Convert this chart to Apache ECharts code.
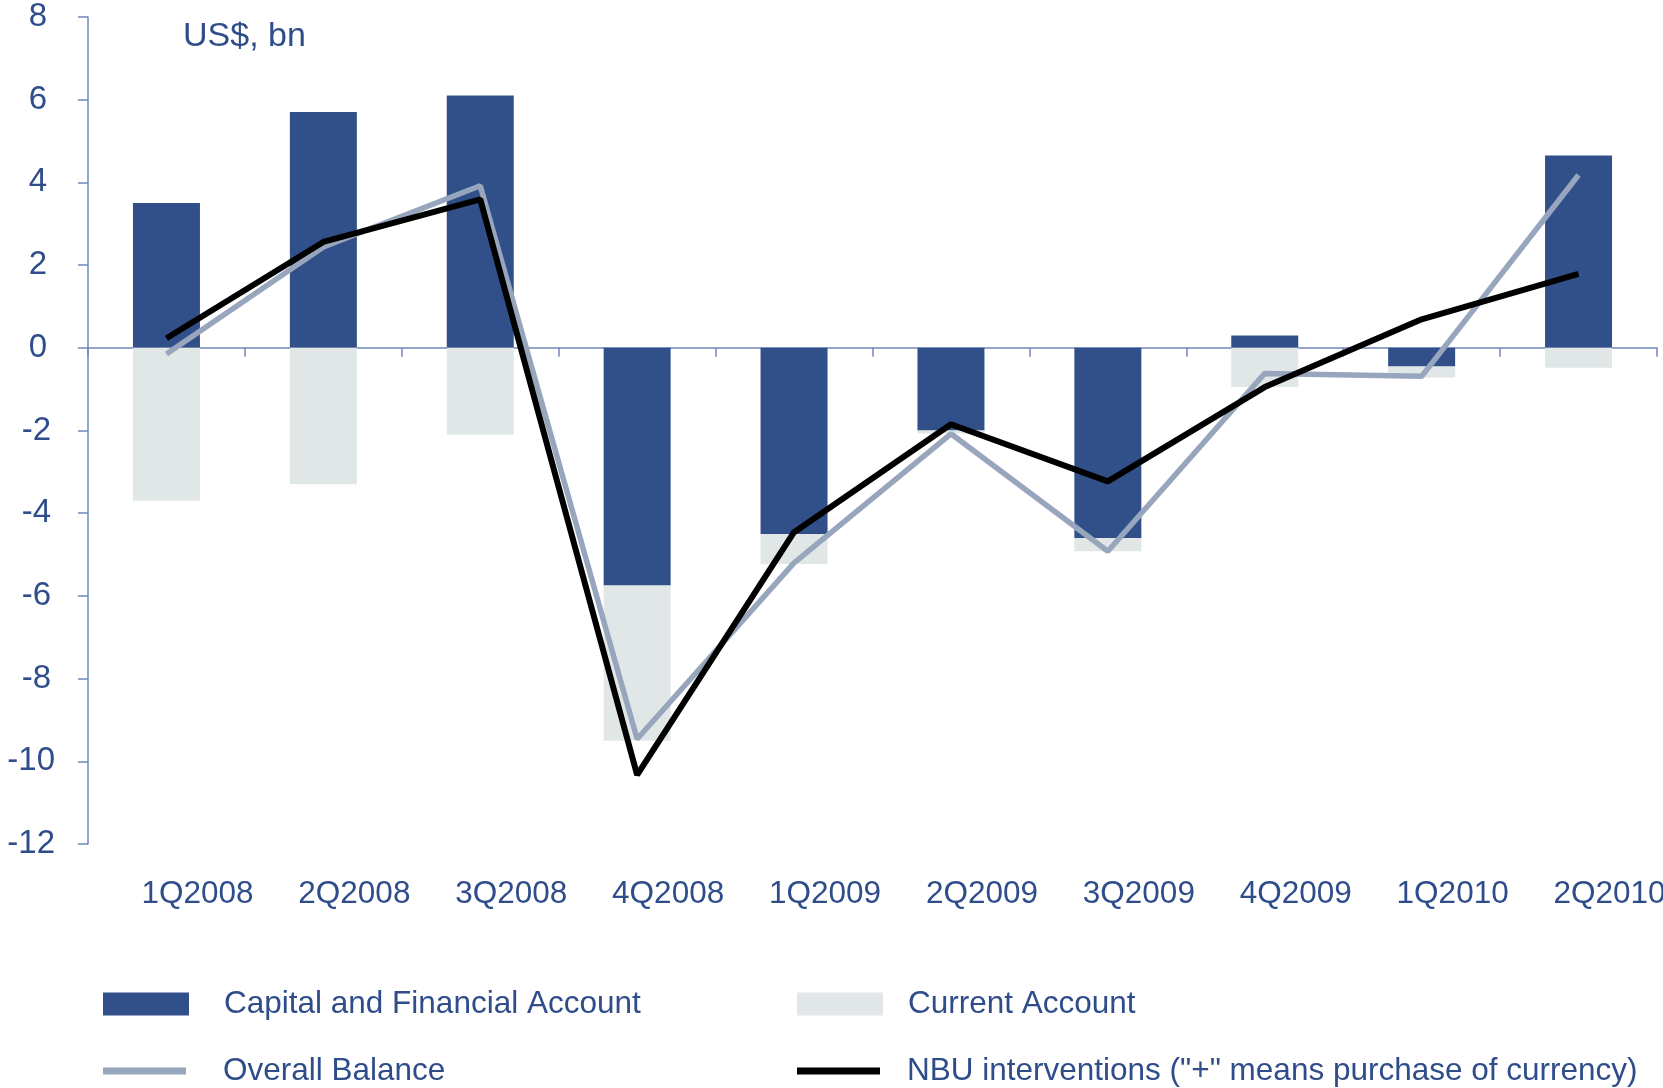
<!DOCTYPE html>
<html>
<head>
<meta charset="utf-8">
<title>Balance of payments</title>
<script src="https://cdn.jsdelivr.net/npm/echarts@6/dist/echarts.min.js"></script>
<style>
  html, body { margin: 0; padding: 0; background: #fff; }
  #chart { width: 1663px; height: 1088px; }
</style>
</head>
<body>
<div id="chart"></div>
<script>
// quarters on the x axis
var quarters = ['1Q2008', '2Q2008', '3Q2008', '4Q2008', '1Q2009', '2Q2009', '3Q2009', '4Q2009', '1Q2010', '2Q2010'];
// US$ bn
var capitalFinancial = [3.5, 5.7, 6.1, -5.75, -4.5, -2.0, -4.6, 0.3, -0.45, 4.65];
var currentAccount = [-3.7, -3.3, -2.1, -3.75, -0.73, -0.07, -0.32, -0.95, -0.27, -0.48];
var overallBalance = [-0.15, 2.44, 3.92, -9.46, -5.2, -2.08, -4.92, -0.62, -0.69, 4.18];
var nbuInterventions = [0.23, 2.56, 3.59, -10.33, -4.46, -1.85, -3.23, -0.95, 0.69, 1.79];

var font = "'Liberation Sans', Arial, sans-serif";
var textBlue = '#2f4d8a';
var axisBlue = '#7088bb';

var chart = echarts.init(document.getElementById('chart'));

function legendAt(name, left, top, w, h, gap) {
    return {
        data: [{ name: name, icon: 'rect' }],
        left: left,
        top: top,
        padding: 0,
        itemWidth: w,
        itemHeight: h,
        selectedMode: false,
        formatter: function (n) { return '{t|' + n + '}'; },
        textStyle: {
            rich: {
                t: {
                    fontFamily: font,
                    fontSize: 31.5,
                    color: textBlue,
                    lineHeight: 32,
                    padding: [0, 0, 0, gap]
                }
            }
        }
    };
}

// y labels: the negative ones sit a bit further right in the original
var yRich = {
    p: { fontFamily: font, fontSize: 33, color: textBlue, padding: [0, 8, 0, 0] },
    n1: { fontFamily: font, fontSize: 33, color: textBlue, padding: [0, 4, 0, 0] },
    n2: { fontFamily: font, fontSize: 33, color: textBlue, padding: [0, 0, 0, 0] }
};

chart.setOption({
    animation: false,
    title: {
        text: 'US$, bn',
        left: 183,
        top: 20,
        padding: 0,
        textStyle: { fontFamily: font, fontSize: 34, fontWeight: 'normal', color: textBlue }
    },
    grid: { left: 88, right: 6, top: 17, bottom: 244, containLabel: false, outerBoundsMode: 'none' },
    legend: [
        legendAt('Capital and Financial Account', 103, 988, 86, 23, 30),
        legendAt('Current Account', 797, 988, 86, 23, 20),
        legendAt('Overall Balance', 103, 1055, 83, 7, 32),
        legendAt('NBU interventions ("+" means purchase of currency)', 797, 1055, 83, 7, 22)
    ],
    xAxis: [
        {
            type: 'category',
            data: quarters,
            axisLine: { onZero: true, lineStyle: { color: axisBlue, width: 1.5 } },
            axisTick: { show: true, length: 9, lineStyle: { color: axisBlue, width: 1.5 } },
            axisLabel: { show: false }
        },
        {
            type: 'category',
            data: quarters,
            position: 'bottom',
            axisLine: { show: false, onZero: false },
            axisTick: { show: false },
            axisLabel: {
                margin: 34,
                fontFamily: font,
                fontSize: 31.5,
                color: textBlue,
                padding: [0, 0, 0, 62]
            }
        }
    ],
    yAxis: {
        type: 'value',
        min: -12,
        max: 8,
        interval: 2,
        axisLine: { show: true, lineStyle: { color: axisBlue, width: 1.5 } },
        axisTick: { show: true, length: 10, lineStyle: { color: axisBlue, width: 1.5 } },
        splitLine: { show: false },
        axisLabel: {
            margin: 33,
            formatter: function (v) {
                var key = v >= 0 ? 'p' : (v > -10 ? 'n1' : 'n2');
                return '{' + key + '|' + v + '}';
            },
            rich: yRich
        }
    },
    series: [
        {
            name: 'Capital and Financial Account',
            type: 'bar',
            stack: 'bop',
            barWidth: 67,
            itemStyle: { color: '#31508a' },
            data: capitalFinancial
        },
        {
            name: 'Current Account',
            type: 'bar',
            stack: 'bop',
            barWidth: 67,
            itemStyle: { color: '#e1e7e7' },
            data: currentAccount
        },
        {
            name: 'Overall Balance',
            type: 'line',
            symbol: 'none',
            lineStyle: { color: '#97a6bd', width: 5.5 },
            itemStyle: { color: '#97a6bd' },
            data: overallBalance
        },
        {
            name: 'NBU interventions ("+" means purchase of currency)',
            type: 'line',
            symbol: 'none',
            lineStyle: { color: '#000000', width: 6 },
            itemStyle: { color: '#000000' },
            data: nbuInterventions
        }
    ]
});
</script>
</body>
</html>
